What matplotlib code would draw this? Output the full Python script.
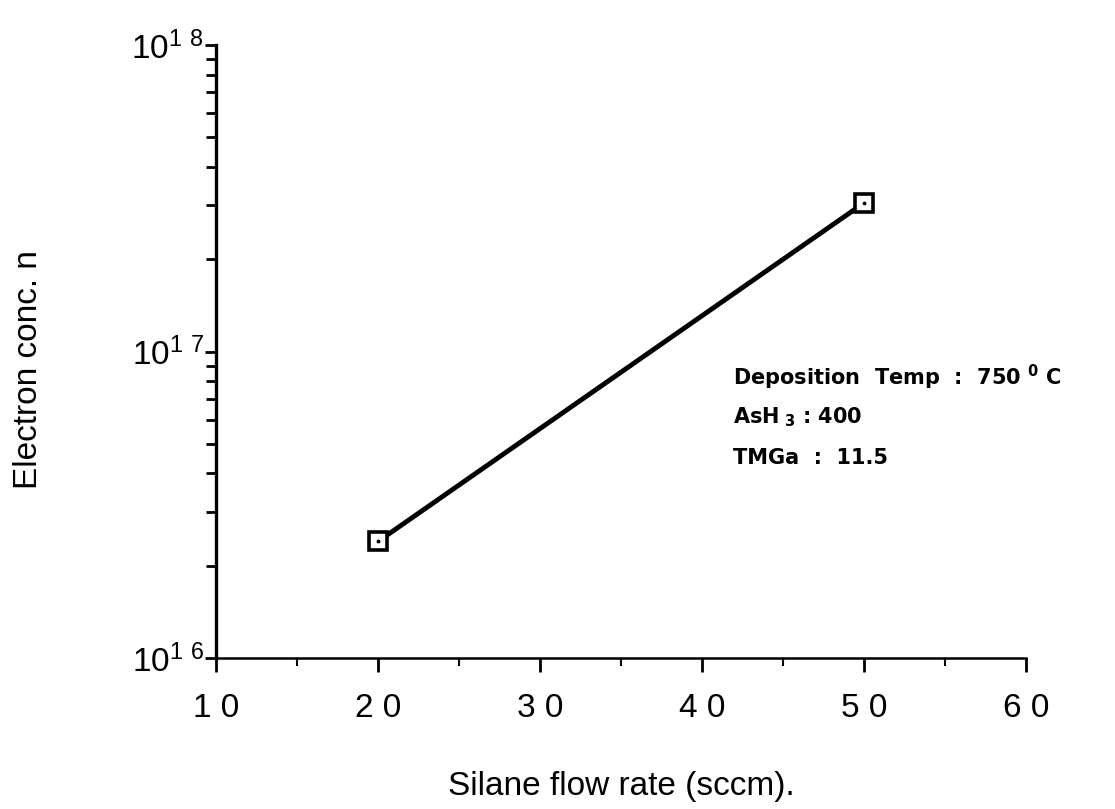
import matplotlib
matplotlib.use("Agg")
import matplotlib.pyplot as plt
from matplotlib.ticker import FixedLocator, LogLocator, NullFormatter

plt.rcParams['font.family'] = ['Liberation Sans', 'DejaVu Sans']
plt.rcParams['mathtext.fontset'] = 'custom'
plt.rcParams['mathtext.rm'] = 'Liberation Sans'

# data
silane_flow = [20, 50]
electron_conc = [2.4e16, 3.05e17]
x_ticks = [10, 20, 30, 40, 50, 60]
x_tick_labels = ['1 0', '2 0', '3 0', '4 0', '5 0', '6 0']
y_ticks = [1e16, 1e17, 1e18]
y_tick_labels = [r'$\mathregular{10^{1\ 6}}$', r'$\mathregular{10^{1\ 7}}$', r'$\mathregular{10^{1\ 8}}$']

fig = plt.figure(figsize=(11.15, 8.09), dpi=100)
ax = fig.add_axes([0.1937, 0.1866, 0.7263, 0.7578])

ax.plot(silane_flow, electron_conc, color='black', lw=3.5, marker='s', ms=13,
        mfc='white', mec='black', mew=2.6, zorder=3)
ax.plot(silane_flow, electron_conc, ls='none', marker='.', ms=3.5, color='black', zorder=4)

ax.set_yscale('log')
ax.set_xlim(10, 60)
ax.set_ylim(1e16, 1e18)

ax.set_xticks(x_ticks)
ax.set_xticklabels(x_tick_labels, fontsize=24)
ax.xaxis.set_minor_locator(FixedLocator([15, 25, 35, 45, 55]))
ax.set_yticks(y_ticks)
ax.set_yticklabels(y_tick_labels, fontsize=24)
ax.yaxis.set_minor_locator(LogLocator(base=10, subs=range(2, 10)))
ax.yaxis.set_minor_formatter(NullFormatter())

ax.tick_params(axis='x', which='major', direction='out', length=10, width=2, pad=15)
ax.tick_params(axis='x', which='minor', direction='out', length=6, width=1.5)
ax.tick_params(axis='y', which='major', direction='out', length=8, width=2, pad=1)
ax.tick_params(axis='y', which='minor', direction='out', length=7, width=2)

for s in ['top', 'right']:
    ax.spines[s].set_visible(False)
ax.spines['left'].set_linewidth(2.4)
ax.spines['bottom'].set_linewidth(1.8)

ax.set_xlabel('Silane flow rate (sccm).', fontsize=24)
ax.xaxis.set_label_coords(0.5, -0.185)
ax.set_ylabel('Electron conc. n', fontsize=24)
ax.yaxis.set_label_coords(-0.212, 0.47)

ann_kw = dict(transform=ax.transAxes, fontsize=15, fontweight='bold', ha='left',
              va='baseline', family='DejaVu Sans')
ax.text(0.638, 0.445, r'Deposition  Temp  :  750 $\mathregular{^{0}}$ C', **ann_kw)
ax.text(0.638, 0.382, r'AsH$\mathregular{_{\ 3}}$ : 400', **ann_kw)
ax.text(0.638, 0.316, 'TMGa  :  11.5', **ann_kw)

fig.savefig('out.png', dpi=100)
